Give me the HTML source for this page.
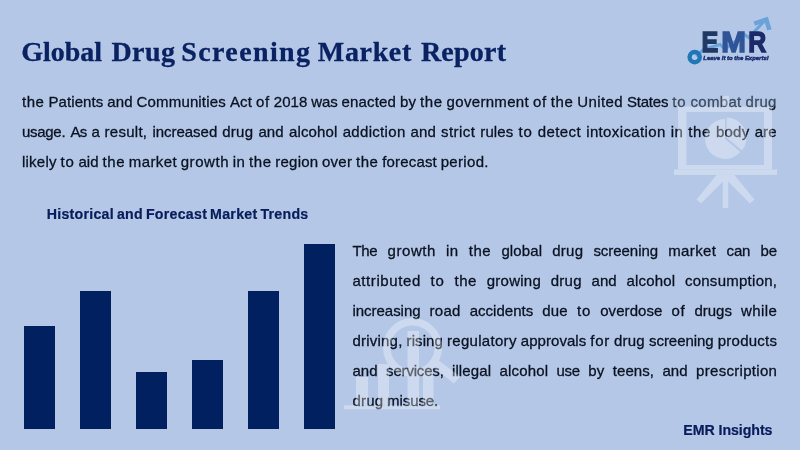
<!DOCTYPE html>
<html><head><meta charset="utf-8">
<style>
html,body{margin:0;padding:0;}
body{width:800px;height:450px;background:#b4c7e7;position:relative;overflow:hidden;font-family:"Liberation Sans",sans-serif;}
.abs{position:absolute;white-space:nowrap;}
.title{left:21.600px;top:31.800px;font-family:"Liberation Serif",serif;font-weight:bold;font-size:28px;color:#0a2262;line-height:40px;letter-spacing:0.68px;-webkit-text-stroke:0.3px #0a2262;}
.ln{font-size:15px;-webkit-text-stroke:0.3px #0b1322;color:#0b1322;line-height:20px;height:20px;}
.ln span{position:absolute;top:0;white-space:nowrap;}
.sub{left:46.700px;top:204.100px;font-weight:bold;font-size:14.200px;letter-spacing:0.258px;word-spacing:-1.2px;color:#081d5a;-webkit-text-stroke:0.2px #081d5a;line-height:20px;}
.bar{position:absolute;background:#002060;width:31px;}
.foot{left:683.300px;top:420.100px;font-weight:bold;font-size:14.200px;letter-spacing:-0.06px;color:#081d5a;-webkit-text-stroke:0.2px #081d5a;line-height:20px;}
svg{position:absolute;left:0;top:0;}
</style></head><body>
<div class="abs title" style="left:21.300px;letter-spacing:-0.06px">Global</div>
<div class="abs title" style="left:111.400px;letter-spacing:0.467px">Drug</div>
<div class="abs title" style="left:181.200px;letter-spacing:1.4px">Screening</div>
<div class="abs title" style="left:317.800px;letter-spacing:0.66px">Market</div>
<div class="abs title" style="left:420.900px;letter-spacing:0.22px">Report</div>

<div class="abs ln" style="left:22.0px;top:91.7px"><span style="left:0.0px;letter-spacing:0.538px">the</span> <span style="left:26.5px;letter-spacing:0.072px">Patients</span> <span style="left:85.3px;letter-spacing:0.096px">and</span> <span style="left:114.6px;letter-spacing:0.155px">Communities</span> <span style="left:207.9px;letter-spacing:0.143px">Act</span> <span style="left:234.0px;letter-spacing:0.631px">of</span> <span style="left:251.8px;letter-spacing:0.044px">2018</span> <span style="left:289.3px;letter-spacing:-0.152px">was</span> <span style="left:319.6px;letter-spacing:0.134px">enacted</span> <span style="left:377.9px;letter-spacing:0.171px">by</span> <span style="left:398.1px;letter-spacing:0.538px">the</span> <span style="left:424.6px;letter-spacing:0.317px">government</span> <span style="left:511.0px;letter-spacing:0.631px">of</span> <span style="left:528.8px;letter-spacing:0.538px">the</span> <span style="left:555.3px;letter-spacing:0.371px">United</span> <span style="left:604.9px;letter-spacing:-0.201px">States</span> <span style="left:650.2px;letter-spacing:0.878px">to</span> <span style="left:668.5px;letter-spacing:0.318px">combat</span> <span style="left:723.6px;letter-spacing:0.230px">drug</span></div>
<div class="abs ln" style="left:22.0px;top:121.7px"><span style="left:0.0px;letter-spacing:-0.291px">usage.</span> <span style="left:48.4px;letter-spacing:-0.733px">As</span> <span style="left:69.6px;letter-spacing:-0.416px">a</span> <span style="left:82.6px;letter-spacing:0.255px">result,</span> <span style="left:130.4px;letter-spacing:-0.025px">increased</span> <span style="left:200.3px;letter-spacing:0.230px">drug</span> <span style="left:236.4px;letter-spacing:0.096px">and</span> <span style="left:266.9px;letter-spacing:0.161px">alcohol</span> <span style="left:320.7px;letter-spacing:0.315px">addiction</span> <span style="left:388.6px;letter-spacing:0.096px">and</span> <span style="left:419.1px;letter-spacing:0.409px">strict</span> <span style="left:458.3px;letter-spacing:0.091px">rules</span> <span style="left:496.4px;letter-spacing:0.878px">to</span> <span style="left:515.8px;letter-spacing:0.396px">detect</span> <span style="left:564.2px;letter-spacing:0.364px">intoxication</span> <span style="left:648.7px;letter-spacing:0.403px">in</span> <span style="left:666.3px;letter-spacing:0.538px">the</span> <span style="left:693.9px;letter-spacing:0.269px">body</span> <span style="left:732.7px;letter-spacing:0.081px">are</span></div>
<div class="abs ln" style="left:22.0px;top:151.7px"><span style="left:0.0px;letter-spacing:0.217px">likely</span> <span style="left:38.4px;letter-spacing:0.878px">to</span> <span style="left:56.4px;letter-spacing:0.130px">aid</span> <span style="left:80.6px;letter-spacing:0.538px">the</span> <span style="left:106.8px;letter-spacing:0.396px">market</span> <span style="left:158.7px;letter-spacing:0.554px">growth</span> <span style="left:210.8px;letter-spacing:0.403px">in</span> <span style="left:227.1px;letter-spacing:0.538px">the</span> <span style="left:253.3px;letter-spacing:0.219px">region</span> <span style="left:300.0px;letter-spacing:0.255px">over</span> <span style="left:334.0px;letter-spacing:0.538px">the</span> <span style="left:360.2px;letter-spacing:0.171px">forecast</span> <span style="left:418.7px;letter-spacing:0.318px">period.</span></div>
<div class="abs ln" style="left:352.4px;top:240.6px"><span style="left:0.0px;letter-spacing:-0.288px">The</span> <span style="left:35.2px;letter-spacing:0.554px">growth</span> <span style="left:93.7px;letter-spacing:0.403px">in</span> <span style="left:116.3px;letter-spacing:0.538px">the</span> <span style="left:149.0px;letter-spacing:0.115px">global</span> <span style="left:199.9px;letter-spacing:0.230px">drug</span> <span style="left:241.0px;letter-spacing:-0.040px">screening</span> <span style="left:315.8px;letter-spacing:0.396px">market</span> <span style="left:374.2px;letter-spacing:-0.189px">can</span> <span style="left:408.0px;letter-spacing:0.121px">be</span></div>
<div class="abs ln" style="left:352.4px;top:270.6px"><span style="left:0.0px;letter-spacing:0.590px">attributed</span> <span style="left:78.2px;letter-spacing:0.878px">to</span> <span style="left:102.1px;letter-spacing:0.538px">the</span> <span style="left:134.3px;letter-spacing:0.267px">growing</span> <span style="left:198.4px;letter-spacing:0.230px">drug</span> <span style="left:239.1px;letter-spacing:0.096px">and</span> <span style="left:274.1px;letter-spacing:0.161px">alcohol</span> <span style="left:332.5px;letter-spacing:0.265px">consumption,</span></div>
<div class="abs ln" style="left:352.4px;top:300.6px"><span style="left:0.0px;letter-spacing:-0.020px">increasing</span> <span style="left:77.2px;letter-spacing:0.272px">road</span> <span style="left:117.4px;letter-spacing:-0.001px">accidents</span> <span style="left:189.8px;letter-spacing:0.198px">due</span> <span style="left:224.5px;letter-spacing:0.878px">to</span> <span style="left:247.8px;letter-spacing:0.077px">overdose</span> <span style="left:319.2px;letter-spacing:0.631px">of</span> <span style="left:342.1px;letter-spacing:-0.022px">drugs</span> <span style="left:388.5px;letter-spacing:0.434px">while</span></div>
<div class="abs ln" style="left:352.4px;top:330.6px"><span style="left:0.0px;letter-spacing:0.224px">driving,</span> <span style="left:54.2px;letter-spacing:0.077px">rising</span> <span style="left:94.6px;letter-spacing:0.304px">regulatory</span> <span style="left:168.4px;letter-spacing:0.049px">approvals</span> <span style="left:237.9px;letter-spacing:0.677px">for</span> <span style="left:261.5px;letter-spacing:0.230px">drug</span> <span style="left:296.6px;letter-spacing:-0.040px">screening</span> <span style="left:365.3px;letter-spacing:0.256px">products</span></div>
<div class="abs ln" style="left:352.4px;top:360.6px"><span style="left:0.0px;letter-spacing:0.096px">and</span> <span style="left:33.7px;letter-spacing:-0.178px">services,</span> <span style="left:99.6px;letter-spacing:0.112px">illegal</span> <span style="left:147.1px;letter-spacing:0.161px">alcohol</span> <span style="left:204.1px;letter-spacing:-0.262px">use</span> <span style="left:235.9px;letter-spacing:0.171px">by</span> <span style="left:260.4px;letter-spacing:0.073px">teens,</span> <span style="left:310.0px;letter-spacing:0.096px">and</span> <span style="left:343.7px;letter-spacing:0.304px">prescription</span></div>
<div class="abs ln" style="left:352.4px;top:390.6px"><span style="left:0.0px;letter-spacing:0.230px">drug</span> <span style="left:34.7px;letter-spacing:-0.088px">misuse.</span></div>

<div class="abs sub">Historical and Forecast Market Trends</div>

<div class="bar" style="left:23.700px;top:325.800px;height:103.700px"></div>
<div class="bar" style="left:79.500px;top:290.600px;height:138.900px"></div>
<div class="bar" style="left:135.500px;top:372.200px;height:57.300px"></div>
<div class="bar" style="left:191.500px;top:360.400px;height:69.100px"></div>
<div class="bar" style="left:247.500px;top:290.700px;height:138.800px"></div>
<div class="bar" style="left:303.800px;top:244.300px;height:185.200px"></div>

<svg width="800" height="450" viewBox="0 0 800 450">
 <rect x="671" y="92" width="109" height="14.400" fill="#b4c7e7" opacity="0.3"/>
 <!-- presentation board watermark -->
 <g fill="#ffffff" opacity="0.32">
  <path d="M678 106.400H772V169.500H678Z M686.500 112V165H764V112Z" fill-rule="evenodd"/>
  <rect x="722" y="96" width="7" height="10.400"/>
  <rect x="674" y="169.500" width="103" height="5.400"/>
  <rect x="722.700" y="174.900" width="5.500" height="33"/>
  <path d="M716.500 174.900L726 174.900L726 178.500L701 203.500L696.500 199.500Z"/>
  <path d="M734.400 174.900L725 174.900L725 178.500L749.900 203.500L754.400 199.500Z"/>
  <path d="M725 139L725 119A20 20 0 1 0 740.300 151.900Z"/>
  <path d="M726.600 137.500L726.600 117.500A20 20 0 0 1 741.900 150.400Z"/>
 </g>
 <!-- magnifier chart watermark -->
 <g fill="#ffffff" opacity="0.32">
  <rect x="344" y="405.300" width="96" height="4"/>
  <rect x="356" y="377" width="12" height="28.300"/>
  <rect x="378" y="364" width="11" height="41.300"/>
  <rect x="407.500" y="331" width="11.500" height="74.300"/>
  <rect x="423" y="370" width="10.500" height="35.300"/>
  <path d="M412.500 318a29.500 29.500 0 1 0 0.010 0Z M412.500 325.500a22 22 0 1 1 -0.010 0Z" fill-rule="evenodd"/>
  <path d="M431.500 366L437.500 359.500L460 376.500L454 383.500Z"/>
 </g>
</svg>
<div class="abs foot">EMR Insights</div>

<!-- logo -->
<svg width="800" height="450" viewBox="0 0 800 450">
 <path d="M696 56L703.500 49.500L720 44.500L725 49L744.500 34.500L748.500 37.500L763.800 21.800" fill="none" stroke="#6aa3da" stroke-width="3"/>
 <path d="M754.300 23.600L766.300 19.600L769.400 29.800" fill="none" stroke="#6aa3da" stroke-width="4.600" stroke-linejoin="miter"/>
 <circle cx="694.700" cy="57.100" r="5.100" fill="none" stroke="#1f77b8" stroke-width="4.400"/>
 <g font-family="Liberation Sans, sans-serif" font-weight="bold" font-size="29.500" stroke-width="1.400" stroke-linejoin="miter">
  <text x="701.400" y="52" fill="#1f3864" stroke="#1f3864" textLength="16.800" lengthAdjust="spacingAndGlyphs">E</text>
  <text x="721.200" y="52" fill="#2f5597" stroke="#2f5597" textLength="24.700" lengthAdjust="spacingAndGlyphs">M</text>
  <text x="748.200" y="52" fill="#1b2a68" stroke="#1b2a68" textLength="18" lengthAdjust="spacingAndGlyphs">R</text>
 </g>
 <text x="703.300" y="60.400" font-family="Liberation Sans, sans-serif" font-weight="bold" font-style="italic" font-size="5.800" fill="#1b2f6e" stroke="#1b2f6e" stroke-width="0.450" textLength="65.400" lengthAdjust="spacingAndGlyphs">Leave it to the Experts!</text>
</svg>
</body></html>
